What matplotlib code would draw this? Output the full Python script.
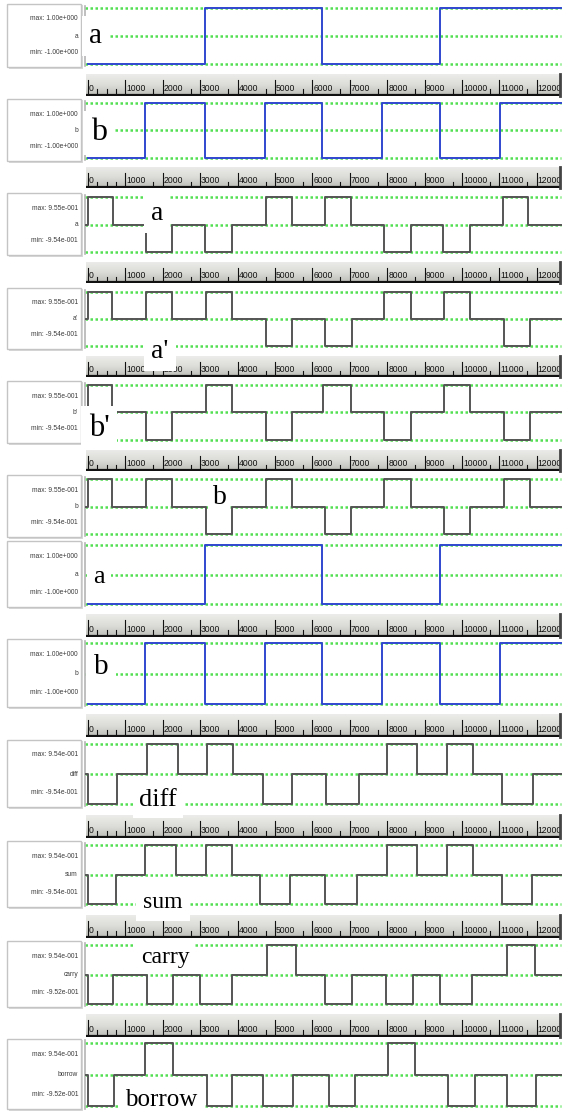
import matplotlib
matplotlib.use('Agg')
import numpy as np
import matplotlib.pyplot as plt
from matplotlib import font_manager as fm
from matplotlib.patches import Rectangle

# ---------------- data ----------------
# step waveforms: transition times (ruler units) and the level that starts there
a_times = [0, 3130, 6260, 9410]
a_levels = [-1, 1, -1, 1]
b_times = [0, 1520, 3130, 4730, 6260, 7860, 9410, 11020]
b_levels = [-1, 1, -1, 1, -1, 1, -1, 1]

a_rz_times = [0, 670, 1550, 2250, 3130, 3850, 4760, 5450, 6340, 7030, 7920, 8640, 9490, 10210, 11100, 11770]
a_rz_levels = [1, 0, -1, 0, -1, 0, 1, 0, 1, 0, -1, 0, -1, 0, 1, 0]
a2_times = [0, 640, 1550, 2250, 3160, 3850, 4760, 5450, 6340, 7060, 7920, 8640, 9520, 10210, 11120, 11820]
a2_levels = [1, 0, 1, 0, 1, 0, -1, 0, -1, 0, 1, 0, 1, 0, -1, 0]
b2_times = [0, 640, 1550, 2250, 3160, 3850, 4760, 5450, 6290, 7030, 7920, 8640, 9520, 10210, 11120, 11820]
b2_levels = [1, 0, -1, 0, 1, 0, -1, 0, 1, 0, -1, 0, 1, 0, -1, 0]
b_rz_times = [0, 640, 1550, 2250, 3160, 3850, 4760, 5450, 6340, 7030, 7920, 8640, 9520, 10210, 11120, 11820]
b_rz_levels = [1, 0, 1, 0, -1, 0, 1, 0, -1, 0, 1, 0, -1, 0, 1, 0]

diff_times = [0, 780, 1580, 2410, 3180, 3880, 4680, 5450, 6360, 7250, 8000, 8800, 9600, 10290, 11070, 11900]
diff_levels = [-1, 0, 1, 0, 1, 0, -1, 0, -1, 0, 1, 0, 1, 0, -1, 0]
sum_times = [0, 750, 1520, 2350, 3160, 3850, 4600, 5400, 6340, 7190, 8000, 8800, 9600, 10290, 11070, 11870]
sum_levels = [-1, 0, 1, 0, 1, 0, -1, 0, -1, 0, 1, 0, 1, 0, -1, 0]
carry_times = [0, 670, 1580, 2270, 2990, 3850, 4790, 5560, 6340, 7060, 7970, 8690, 9410, 10270, 11200, 11950]
carry_levels = [-1, 0, -1, 0, -1, 0, 1, 0, -1, 0, -1, 0, -1, 0, 1, 0]
borrow_times = [0, 700, 1520, 2270, 3180, 3850, 4680, 5480, 6440, 7140, 8020, 8740, 9630, 10350, 11200, 11980]
borrow_levels = [-1, 0, 1, 0, -1, 0, -1, 0, -1, 0, 1, 0, -1, 0, -1, 0]

signal_names = ['a', 'b', 'a', "a'", "b'", 'b', 'a', 'b', 'diff', 'sum', 'carry', 'borrow']
max_labels = ['1.00e+000', '1.00e+000', '9.55e-001', '9.55e-001', '9.55e-001', '9.55e-001',
              '1.00e+000', '1.00e+000', '9.54e-001', '9.54e-001', '9.54e-001', '9.54e-001']
min_labels = ['-1.00e+000', '-1.00e+000', '-9.54e-001', '-9.54e-001', '-9.54e-001', '-9.54e-001',
              '-1.00e+000', '-1.00e+000', '-9.54e-001', '-9.54e-001', '-9.52e-001', '-9.52e-001']
series_times = [a_times, b_times, a_rz_times, a2_times, b2_times, b_rz_times,
                a_times, b_times, diff_times, sum_times, carry_times, borrow_times]
series_levels = [a_levels, b_levels, a_rz_levels, a2_levels, b2_levels, b_rz_levels,
                 a_levels, b_levels, diff_levels, sum_levels, carry_levels, borrow_levels]
big_labels = ['a', 'b', 'a', "a'", "b'", 'b', 'a', 'b', 'diff', 'sum', 'carry', 'borrow']
ruler_ticks = list(range(0, 13000, 1000))

# ---------------- layout / style ----------------
W, H, DPI = 563, 1120, 100
T0PX, PX_PER_UNIT = 88.0, 37.4 / 1000.0

def t_of(px):
    return (px - T0PX) / PX_PER_UNIT

binary = [True, True, False, False, False, False, True, True, False, False, False, False]
panel_y = [(8, 64), (103, 158), (197, 252), (292, 346), (385, 440), (479, 534),
           (545, 604), (643, 704), (744, 804), (845, 904), (945, 1004), (1043, 1106)]
ruler_y = [(74, 96), (167, 188), (262, 283), (356, 377), (450, 471), None,
           (614, 637), (714, 737), (815, 838), (915, 938), (1014, 1037), None]
big_pos = [(96, 36), (99, 133), (157, 214), (160, 352), (99, 428), (220, 498),
           (99, 577), (101, 667), (158, 800), (163, 903), (165, 957), (161, 1100)]
big_size = [21, 23, 20, 20, 22, 20, 19, 21, 19, 17, 17, 18]
big_pad = [0.25, 0.25, 0.25, 0.25, 0.25, 0.1, 0.25, 0.25, 0.25, 0.3, 0.25, 0.25]

avail = {f.name for f in fm.fontManager.ttflist}
def pick(*names):
    for n in names:
        if n in avail:
            return n
    return 'DejaVu Sans'
NARROW = pick('Liberation Sans Narrow', 'Liberation Sans', 'DejaVu Sans')
SERIF = pick('Liberation Serif', 'DejaVu Serif')

GREEN = '#52e052'
BLUE = '#3048d0'
GRAY = '#555555'

fig = plt.figure(figsize=(W / DPI, H / DPI), dpi=DPI)
fig.patch.set_facecolor('white')

def px_axes(x0, y0, x1, y1, z=1):
    ax = fig.add_axes([x0 / W, 1 - y1 / H, (x1 - x0) / W, (y1 - y0) / H], zorder=z)
    ax.set_axis_off()
    return ax

WX0, WX1 = 85, 561
for i in range(12):
    top, bot = panel_y[i]
    ax = px_axes(WX0, top, WX1, bot, z=2)
    ax.set_xlim(t_of(WX0), t_of(WX1))
    ax.set_ylim(-1, 1)
    for yv in (1, 0, -1):
        ax.axhline(yv, color=GREEN, lw=1.8, ls=(0, (1, 1)), clip_on=False, zorder=1)
    ax.axvline(t_of(WX0), ymin=-0.04, ymax=1.04, color='#b4b4b4', lw=1.2, clip_on=False)
    tt = list(series_times[i])
    ll = list(series_levels[i])
    if not binary[i]:
        tt = [t_of(WX0 + 1)] + tt
        ll = [0] + ll
    tt = tt + [t_of(WX1)]
    ll = ll + [ll[-1]]
    ax.step(tt, ll, where='post', color=BLUE if binary[i] else GRAY,
            lw=1.4, clip_on=False, zorder=3)

    r = ruler_y[i]
    if r is not None:
        rt, rb = r
        rx0, rx1 = 86, 560
        rax = px_axes(rx0, rt, rx1, rb, z=2)
        x0t, x1t = t_of(rx0), t_of(rx1)
        rax.set_xlim(x0t, x1t)
        rax.set_ylim(0, 1)
        grad = np.linspace(0, 1, 32).reshape(-1, 1)
        cmap = matplotlib.colors.LinearSegmentedColormap.from_list('g', ['#bdbdb8', '#dcdcd8', '#ececea'])
        rax.imshow(grad, extent=[x0t, x1t, 0, 1], aspect='auto', cmap=cmap, origin='lower', zorder=0)
        rax.axhline(0.04, color='#111111', lw=1.6, zorder=3)
        for k, tk in enumerate(ruler_ticks):
            rax.plot([tk, tk], [0.04, 0.72], color='#111111', lw=0.8, zorder=3)
            rax.text(tk + 25, 0.14, str(tk), fontsize=6.2, family=NARROW, color='#111111',
                     ha='left', va='bottom', zorder=3)
            minors = [250, 500, 750] if k == 0 else [750]
            for m in minors:
                if tk + m < x1t:
                    rax.plot([tk + m, tk + m], [0.04, 0.3], color='#111111', lw=0.8, zorder=3)
        rax.plot([x1t, x1t], [0, 1], color='#444444', lw=2, zorder=3, clip_on=False)

# overlay in pixel coordinates for label boxes and big labels
ov = fig.add_axes([0, 0, 1, 1], zorder=10)
ov.set_xlim(0, W)
ov.set_ylim(H, 0)
ov.set_axis_off()
ov.patch.set_alpha(0)

for i in range(12):
    top, bot = panel_y[i]
    ov.add_patch(Rectangle((8.5, top - 3), 74, bot - top + 8, fc='#d8d8d8', ec='none', zorder=1))
    ov.add_patch(Rectangle((7, top - 4), 74, bot - top + 7, fc='white', ec='#c4c4c4', lw=1.0, zorder=2))
    ov.text(78, top + 11, 'max: ' + max_labels[i], fontsize=4.8, family=NARROW, color='#3a3a3a',
            ha='right', va='center', zorder=3)
    ov.text(78, (top + bot) / 2, signal_names[i], fontsize=4.8, family=NARROW, color='#3a3a3a',
            ha='right', va='center', zorder=3)
    ov.text(78, bot - 11, 'min: ' + min_labels[i], fontsize=4.8, family=NARROW, color='#3a3a3a',
            ha='right', va='center', zorder=3)
    bx, by = big_pos[i]
    ov.text(bx, by, big_labels[i], fontsize=big_size[i], family=SERIF, color='black',
            ha='center', va='center', zorder=5,
            bbox=dict(boxstyle='square,pad=%g' % big_pad[i], fc='white', ec='none'))

fig.savefig('out.png', dpi=DPI, facecolor='white')
